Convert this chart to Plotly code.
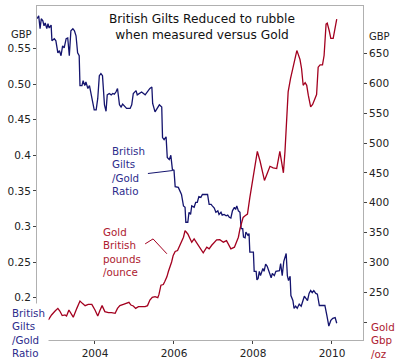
import plotly.graph_objects as go

# ---- data (decimal years) ----
ratio_years = [2002.53, 2002.575, 2002.61, 2002.64, 2002.68, 2002.71, 2002.74, 2002.78, 2002.81, 2002.84,
               2002.89, 2002.91, 2002.97, 2003.01, 2003.06, 2003.10, 2003.14, 2003.18, 2003.22, 2003.27,
               2003.31, 2003.35, 2003.39, 2003.44, 2003.48, 2003.52, 2003.56, 2003.60, 2003.62, 2003.67,
               2003.70, 2003.74, 2003.77, 2003.82, 2003.86, 2003.90, 2003.94, 2003.98, 2004.03, 2004.07,
               2004.11, 2004.15, 2004.19, 2004.24, 2004.28, 2004.31, 2004.36, 2004.41, 2004.45, 2004.49,
               2004.53, 2004.57, 2004.62, 2004.66, 2004.70, 2004.74, 2004.80, 2004.89, 2004.93, 2004.97,
               2005.04, 2005.07, 2005.14, 2005.18, 2005.27, 2005.32, 2005.39, 2005.44, 2005.46, 2005.52,
               2005.56, 2005.63, 2005.69, 2005.71, 2005.75, 2005.80, 2005.83, 2005.88, 2005.92, 2005.96,
               2006.00, 2006.03, 2006.11, 2006.15, 2006.19, 2006.24, 2006.28, 2006.30, 2006.35, 2006.38,
               2006.42, 2006.45, 2006.51, 2006.55, 2006.59, 2006.63, 2006.68, 2006.72, 2006.85, 2006.89,
               2006.94, 2006.97, 2007.02, 2007.06, 2007.11, 2007.14, 2007.19, 2007.22, 2007.27, 2007.32,
               2007.36, 2007.40, 2007.44, 2007.48, 2007.53, 2007.56, 2007.59, 2007.63, 2007.67, 2007.70,
               2007.74, 2007.76, 2007.80, 2007.82, 2007.87, 2007.90, 2007.92, 2008.01, 2008.03, 2008.08,
               2008.10, 2008.13, 2008.16, 2008.19, 2008.25, 2008.28, 2008.32, 2008.36, 2008.41, 2008.46,
               2008.49, 2008.54, 2008.58, 2008.67, 2008.70, 2008.74, 2008.78, 2008.84, 2008.87, 2008.90,
               2008.94, 2008.96, 2009.01, 2009.04, 2009.08, 2009.12, 2009.17, 2009.22, 2009.26, 2009.30,
               2009.34, 2009.38, 2009.42, 2009.46, 2009.50, 2009.54, 2009.59, 2009.63, 2009.68, 2009.74,
               2009.82, 2009.87, 2009.90, 2009.92, 2009.97, 2010.02, 2010.08, 2010.12]
ratio_values = [0.592, 0.596, 0.578, 0.592, 0.589, 0.582, 0.586, 0.578, 0.585, 0.579,
                0.583, 0.561, 0.564, 0.561, 0.544, 0.547, 0.540, 0.554, 0.551, 0.564,
                0.565, 0.540, 0.575, 0.578, 0.575, 0.568, 0.544, 0.540, 0.498, 0.498,
                0.505, 0.498, 0.503, 0.494, 0.498, 0.487, 0.475, 0.464, 0.464, 0.480,
                0.512, 0.515, 0.512, 0.471, 0.462, 0.485, 0.487, 0.485, 0.487, 0.486,
                0.489, 0.494, 0.471, 0.468, 0.472, 0.469, 0.466, 0.466, 0.471, 0.487,
                0.491, 0.485, 0.487, 0.489, 0.485, 0.489, 0.494, 0.496, 0.473, 0.461,
                0.464, 0.471, 0.468, 0.425, 0.422, 0.426, 0.397, 0.394, 0.400, 0.380,
                0.379, 0.356, 0.355, 0.349, 0.345, 0.329, 0.327, 0.306, 0.306, 0.320,
                0.317, 0.329, 0.327, 0.334, 0.334, 0.342, 0.341, 0.345, 0.345, 0.331,
                0.331, 0.329, 0.326, 0.320, 0.322, 0.317, 0.320, 0.316, 0.317, 0.315,
                0.316, 0.313, 0.312, 0.322, 0.327, 0.324, 0.329, 0.322, 0.320, 0.297,
                0.297, 0.285, 0.284, 0.292, 0.288, 0.290, 0.264, 0.264, 0.237, 0.237,
                0.225, 0.227, 0.237, 0.231, 0.241, 0.237, 0.247, 0.244, 0.237, 0.228,
                0.234, 0.231, 0.237, 0.238, 0.248, 0.231, 0.251, 0.262, 0.231, 0.224,
                0.230, 0.203, 0.196, 0.185, 0.188, 0.185, 0.191, 0.188, 0.195, 0.202,
                0.199, 0.196, 0.206, 0.210, 0.207, 0.210, 0.206, 0.205, 0.189, 0.189,
                0.189, 0.175, 0.167, 0.160, 0.168, 0.171, 0.172, 0.164]

gold_years = [2002.82, 2002.90, 2002.99, 2003.06, 2003.11, 2003.17, 2003.24, 2003.28, 2003.34, 2003.41,
              2003.45, 2003.54, 2003.62, 2003.68, 2003.75, 2003.83, 2003.92, 2004.00, 2004.07, 2004.13,
              2004.18, 2004.25, 2004.34, 2004.42, 2004.51, 2004.57, 2004.63, 2004.72, 2004.80, 2004.86,
              2004.91, 2004.97, 2005.03, 2005.10, 2005.18, 2005.27, 2005.33, 2005.39, 2005.45, 2005.52,
              2005.59, 2005.62, 2005.67, 2005.73, 2005.77, 2005.82, 2005.86, 2005.90, 2005.94, 2005.98,
              2006.03, 2006.09, 2006.13, 2006.19, 2006.24, 2006.28, 2006.35, 2006.41, 2006.45, 2006.51,
              2006.62, 2006.70, 2006.74, 2006.83, 2006.89, 2006.95, 2007.04, 2007.08, 2007.16, 2007.25,
              2007.33, 2007.39, 2007.44, 2007.53, 2007.59, 2007.63, 2007.67, 2007.71, 2007.75, 2007.80,
              2007.86, 2007.92, 2007.99, 2008.05, 2008.11, 2008.18, 2008.25, 2008.29, 2008.35, 2008.43,
              2008.51, 2008.60, 2008.68, 2008.72, 2008.77, 2008.81, 2008.85, 2008.89, 2008.95, 2009.01,
              2009.05, 2009.11, 2009.15, 2009.19, 2009.23, 2009.27, 2009.32, 2009.36, 2009.40, 2009.46,
              2009.51, 2009.57, 2009.61, 2009.65, 2009.70, 2009.76, 2009.80, 2009.85, 2009.88, 2009.93,
              2009.97, 2010.03, 2010.08, 2010.12]
gold_values = [203.7, 212.0, 218.6, 223.0, 218.6, 211.0, 212.0, 210.3, 220.3, 212.0,
               208.2, 223.0, 235.2, 231.4, 227.6, 229.8, 229.8, 220.3, 210.3, 220.3,
               227.6, 217.6, 216.0, 216.0, 214.8, 223.0, 227.6, 229.8, 231.4, 233.1,
               228.6, 227.0, 223.0, 225.9, 225.9, 225.9, 227.6, 236.9, 241.4, 242.6,
               240.9, 246.4, 261.8, 263.0, 268.5, 275.8, 285.1, 292.4, 300.7, 311.7,
               318.3, 320.0, 325.6, 333.9, 342.2, 353.2, 347.7, 339.4, 333.9, 339.4,
               328.3, 320.0, 316.1, 325.6, 322.8, 328.3, 333.9, 337.7, 338.2, 333.9,
               336.6, 329.4, 322.8, 325.6, 333.9, 342.2, 356.0, 364.3, 375.4, 378.1,
               380.9, 408.7, 436.2, 464.0, 486.1, 469.5, 450.2, 437.4, 447.4, 461.1,
               458.5, 457.3, 486.1, 469.5, 450.2, 486.1, 538.7, 585.7, 608.0, 627.2,
               641.2, 655.0, 647.8, 640.0, 624.6, 596.8, 601.3, 596.8, 580.2, 560.8,
               564.8, 574.8, 581.4, 627.2, 631.2, 631.2, 646.7, 699.3, 701.0, 688.2,
               675.4, 675.4, 693.7, 707.6]

x_ticks = [2004, 2006, 2008, 2010]
x_tick_labels = ["2004", "2006", "2008", "2010"]
left_ticks = [0.2, 0.25, 0.3, 0.35, 0.4, 0.45, 0.50, 0.55]
left_tick_labels = ["0.2", "0.25", "0.3", "0.35", "0.4", "0.45", "0.50", "0.55"]
right_ticks = [200, 250, 300, 350, 400, 450, 500, 550, 600, 650]
right_tick_labels = ["", "250", "300", "350", "400", "450", "500", "550", "600", "650"]

BLUE_LINE = "#14146e"
BLUE_TEXT = "#2c2c8c"
RED_LINE = "#a3001f"
RED_TEXT = "#ad1a30"
FONT = "DejaVu Sans"
AX = "#b0b0b0"

fig = go.Figure()
fig.add_trace(go.Scatter(x=ratio_years, y=ratio_values, mode="lines",
                         line=dict(color=BLUE_LINE, width=1.3), yaxis="y", hoverinfo="skip"))
fig.add_trace(go.Scatter(x=gold_years, y=gold_values, mode="lines",
                         line=dict(color=RED_LINE, width=1.3), yaxis="y2", hoverinfo="skip"))

axis_common = dict(showgrid=False, zeroline=False, showline=True, linecolor=AX, linewidth=1,
                   ticks="outside", ticklen=3, tickcolor="#444",
                   tickfont=dict(family=FONT, size=10.5, color="#222"))

fig.update_layout(
    width=402, height=364,
    margin=dict(l=37, r=39, t=5, b=22),
    paper_bgcolor="white", plot_bgcolor="white",
    showlegend=False,
    font=dict(family=FONT),
    xaxis=dict(range=[2002.532, 2010.785], tickvals=x_ticks, ticktext=x_tick_labels,
               mirror=True, **axis_common),
    yaxis=dict(range=[0.1405, 0.6099], tickvals=left_ticks, ticktext=left_tick_labels,
               **axis_common),
    yaxis2=dict(range=[170, 729.7], tickvals=right_ticks, ticktext=right_tick_labels,
                overlaying="y", side="right", **axis_common),
)

# connector lines
fig.add_shape(type="line", xref="x", yref="y", x0=2005.34, y0=0.3745, x1=2005.97, y1=0.3787,
              line=dict(color=BLUE_LINE, width=1))
fig.add_shape(type="path", xref="x", yref="y2",
              path="M 2005.27 331.1 L 2005.47 339.4 L 2005.82 314.5",
              line=dict(color=RED_LINE, width=1))

def note(text, x, y, color, size=10.5, xanchor="left", bg=None, align="left", pad=1):
    fig.add_annotation(text=text, xref="paper", yref="paper", x=x, y=y, showarrow=False,
                       xanchor=xanchor, yanchor="middle", align=align,
                       font=dict(family=FONT, size=size, color=color),
                       bgcolor=bg, borderpad=pad)

def px_x(p):
    return (p - 37) / 326.0

def px_y(p):
    return (342 - p) / 337.0

note("British Gilts Reduced to rubble<br>when measured versus Gold", px_x(202), px_y(26), "#111",
     size=12.2, xanchor="center", align="center")
note("British<br>Gilts<br>/Gold<br>Ratio", px_x(110), px_y(171), BLUE_TEXT, size=10.3)
note("Gold<br>British<br>pounds<br>/ounce", px_x(101), px_y(253), RED_TEXT, size=10.3)
note("British<br>Gilts<br>/Gold<br>Ratio", px_x(8), px_y(335), BLUE_TEXT, size=10.3, bg="white", pad=3)
note("Gold<br>Gbp<br>/oz", px_x(369), px_y(343), RED_TEXT, size=10.3, bg="white", pad=1)
note("GBP", px_x(9), px_y(34), "#222", size=10)
note("GBP", px_x(367), px_y(36), "#222", size=10)

fig.write_html("out.html", config={"displayModeBar": False},
               post_script="document.body.style.margin='0';document.body.style.overflow='hidden';")
